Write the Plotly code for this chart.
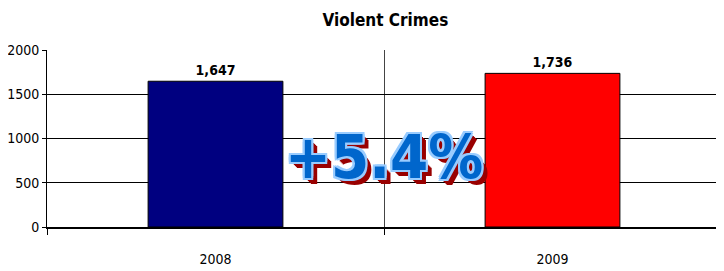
import plotly.graph_objects as go

years = ["2008", "2009"]
crimes = [1647, 1736]
bar_colors = ["#000080", "#ff0000"]
title_text = "Violent Crimes"
change_text = "+5.4%"

FONT = "DejaVu Sans Condensed, Liberation Sans Narrow, sans-serif"

fig = go.Figure()
fig.add_trace(go.Bar(
    x=years, y=crimes,
    marker=dict(color=bar_colors, line=dict(color="#000000", width=1)),
    width=0.4,
    texttemplate="<b>%{y:,}</b>", textposition="outside",
    textfont=dict(family=FONT, size=14, color="#000000"),
    cliponaxis=False,
))

outline = "#99ccff"
sh = []
for dx, dy in [(-2, -2), (2, -2), (-2, 2), (2, 2), (0, -2), (0, 2), (-2, 0), (2, 0)]:
    sh.append(f"{dx}px {dy}px 0 {outline}")
for d in [3, 4, 5, 6]:
    sh.append(f"{d}px {d}px 0 #990000")
shadow = ", ".join(sh)

fig.add_annotation(
    x=0.5, y=0.40, xref="paper", yref="paper",
    text=f"<b>{change_text}</b>", showarrow=False,
    font=dict(family=FONT, size=61, color="#0066cc", shadow=shadow),
    xanchor="center", yanchor="middle",
)

fig.update_layout(
    width=716, height=263,
    margin=dict(l=39, r=3, t=42, b=44, autoexpand=False),
    paper_bgcolor="white", plot_bgcolor="white",
    showlegend=False,
    title=dict(text=f"<b>{title_text}</b>", x=0.527, xanchor="center",
               y=0.955, yanchor="middle", yref="container",
               font=dict(family=FONT, size=17, color="#000000")),
    font=dict(family=FONT, size=14, color="#000000"),
)
fig.update_xaxes(
    type="category", tickson="boundaries", ticks="outside", ticklen=6,
    tickcolor="#000000", showgrid=True, gridcolor="#444444", gridwidth=1,
    showline=True, linecolor="#000000", linewidth=2,
    tickfont=dict(family=FONT, size=14), ticklabelstandoff=18,
    range=[-0.5, 1.5], automargin=False,
)
fig.update_yaxes(
    range=[0, 2000], dtick=500, ticks="outside", ticklen=4, tickcolor="#000000",
    showgrid=True, gridcolor="#000000", gridwidth=1,
    showline=True, linecolor="#000000", linewidth=1,
    tickfont=dict(family=FONT, size=14), zeroline=False, automargin=False,
)
fig.write_html("out.html")
